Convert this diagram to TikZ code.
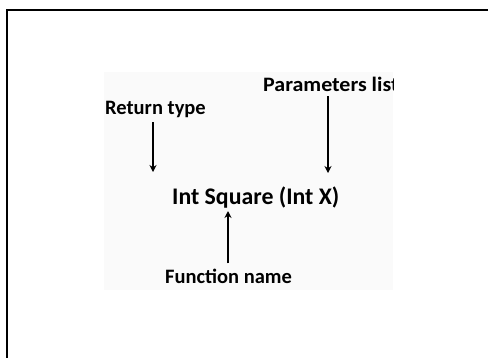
\documentclass[tikz,border=0pt]{standalone}
\usepackage{fontspec}
\setmainfont{Carlito}
\usetikzlibrary{arrows.meta}
\begin{document}
\begin{tikzpicture}[x=1pt,y=-1pt,
  lbl/.style={font=\bfseries\fontsize{20.5}{20.5}\selectfont, inner sep=0pt, anchor=base west},
  sig/.style={font=\bfseries\fontsize{23.8}{23.8}\selectfont, inner sep=0pt, anchor=base west},
  pointer/.style={line width=1.6pt, -{Stealth[length=7pt,width=7pt]}},
  frameline/.style={line width=2pt}]
\useasboundingbox (0,0) rectangle (488,357);
\draw[frameline] (490,10) -- (7,10) -- (7,359);
\fill[gray!4] (104,72) rectangle (393,290);
\begin{scope}
\clip (104,72) rectangle (393,290);
\node[lbl] (ret) at (105,114) {Return type};
\node[lbl] (par) at (263,91) {\scalebox{1.07}[1]{Parameters list}};
\node[sig] (sig) at (172,204) {Int Square (Int X)};
\node[lbl] (fn) at (165,283) {Function name};
\coordinate (rettip) at (153,172);
\coordinate (partip) at (328,173);
\coordinate (fntip) at (228,211);
\draw[pointer] (ret.south -| rettip) ++(0,5) -- (rettip);
\draw[pointer] (par.south -| partip) ++(0,5) -- (partip);
\draw[pointer] (fn.north -| fntip) ++(0,-5) -- (fntip);
\end{scope}
\end{tikzpicture}
\end{document}
